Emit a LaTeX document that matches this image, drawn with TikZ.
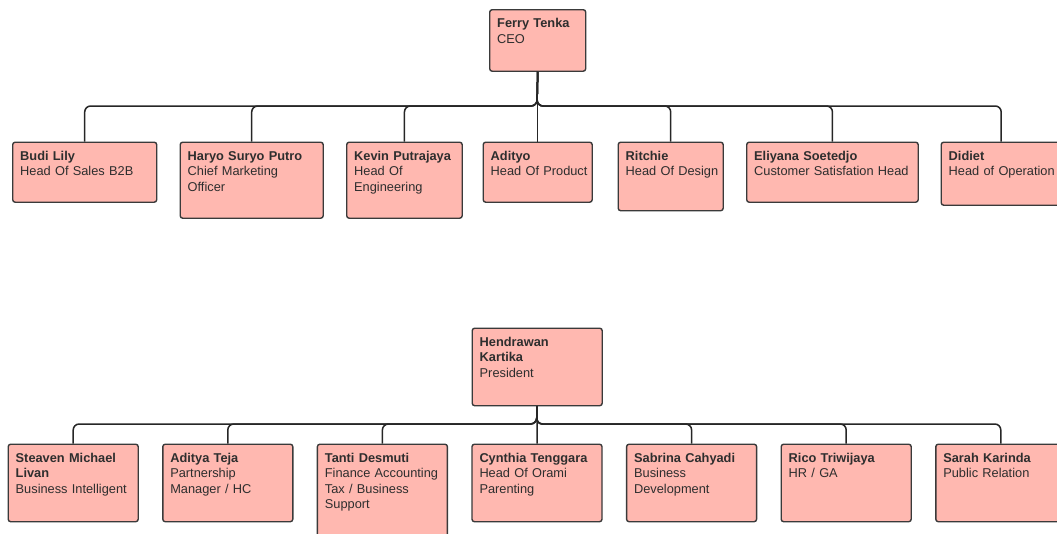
\documentclass[tikz,border=0pt]{standalone}
\usepackage{fontspec}
\setmainfont{Liberation Sans}
\usetikzlibrary{positioning,calc}
\definecolor{boxfill}{HTML}{FFB8B0}
\definecolor{boxline}{HTML}{3A3A3A}
\definecolor{textgray}{HTML}{2E2E2E}
\begin{document}
\begin{tikzpicture}[x=1pt,y=-1pt,
  orgbox/.style={draw=boxline,fill=boxfill,line width=1.4pt,rounded corners=2.5pt,
    inner sep=0pt,anchor=north west},
  boxtext/.style={anchor=north west,inner sep=0pt,align=left,text width=200pt,
    text=textgray,font=\fontsize{12.8}{15.5}\selectfont},
  link/.style={draw=black!85,line width=1.5pt,rounded corners=6pt}]
\clip (0,0) rectangle (1057,533);
% CEO
\node[orgbox,minimum width=96pt,minimum height=61.5pt] (ceo) at (489,9) {};
\node[boxtext] (ceo-txt) at ([shift={(8,9.5)}]ceo.north west) {\textbf{Ferry Tenka}\\CEO};
% Heads reporting to the CEO
\foreach \nm/\x/\w/\h/\who/\role in {
  budi/12/144/60/{Budi Lily}/{Head Of Sales B2B},
  haryo/179.5/143/76/{Haryo Suryo Putro}/{Chief Marketing\\Officer},
  kevin/346/115.5/76/{Kevin Putrajaya}/{Head Of\\Engineering},
  adityo/482.5/109/60/{Adityo}/{Head Of Product},
  ritchie/617.5/105/68.5/{Ritchie}/{Head Of Design},
  eliyana/746/171.5/60/{Eliyana Soetedjo}/{Customer Satisfation Head},
  didiet/940.5/120/63/{Didiet}/{Head of Operation}}{
  \node[orgbox,minimum width=\w pt,minimum height=\h pt] (\nm) at (\x,141.5) {};
  \node[boxtext] (\nm-txt) at ([shift={(8,9.5)}]\nm.north west) {\textbf{\who}\\\role};
}
% Top connectors
\coordinate (topbus) at (537,106);
\foreach \nm in {budi,haryo,kevin,ritchie,eliyana,didiet}
  \draw[link] (ceo.south) -- (topbus) -| (\nm.north);
\draw[link] (ceo.south) -- (adityo.north);
% President
\node[orgbox,minimum width=130pt,minimum height=77.5pt] (pres) at (471.5,327.5) {};
\node[boxtext] (pres-txt) at ([shift={(8,9.5)}]pres.north west) {\textbf{Hendrawan\\Kartika}\\President};
% Units reporting to the President
\foreach \i/\nm/\h/\who/\role in {
  0/steaven/77.5/{Steaven Michael\\Livan}/{Business Intelligent},
  1/teja/77.5/{Aditya Teja}/{Partnership\\Manager / HC},
  2/tanti/110/{Tanti Desmuti}/{Finance Accounting\\Tax / Business\\Support},
  3/cynthia/77.5/{Cynthia Tenggara}/{Head Of Orami\\Parenting},
  4/sabrina/77.5/{Sabrina Cahyadi}/{Business\\Development},
  5/rico/77.5/{Rico Triwijaya}/{HR / GA},
  6/sarah/77.5/{Sarah Karinda}/{Public Relation}}{
  \pgfmathsetmacro{\x}{7.5+154.6*\i}
  \node[orgbox,minimum width=130pt,minimum height=\h pt] (\nm) at (\x,443.5) {};
  \node[boxtext] (\nm-txt) at ([shift={(8,9.5)}]\nm.north west) {\textbf{\who}\\\role};
}
% Bottom connectors
\coordinate (botbus) at (536.5,424);
\foreach \nm in {steaven,teja,tanti,sabrina,rico,sarah}
  \draw[link] (pres.south) -- (botbus) -| (\nm.north);
\draw[link] (pres.south) -- (cynthia.north);
\end{tikzpicture}
\end{document}
